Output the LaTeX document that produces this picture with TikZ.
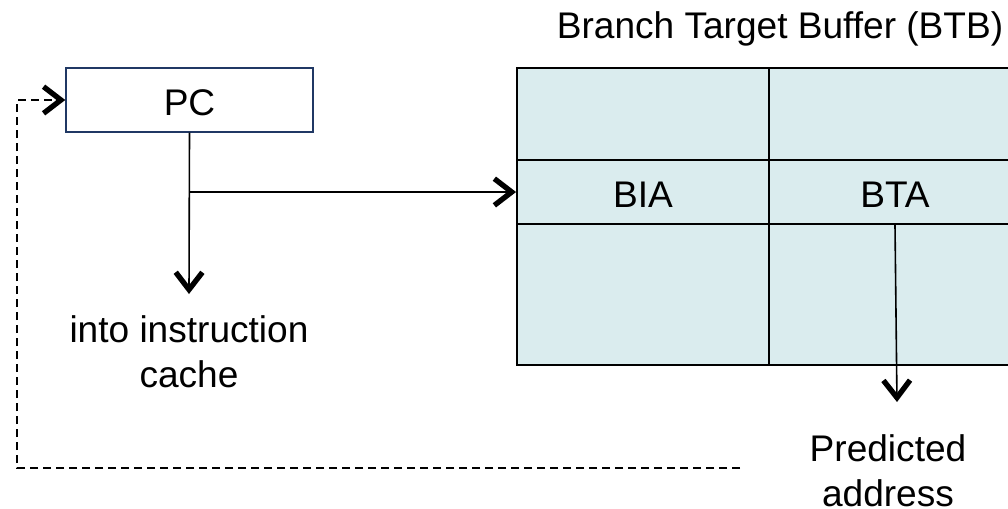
\documentclass[tikz,border=0pt]{standalone}
\usepackage{fontspec}
\setmainfont{Liberation Sans}
\usetikzlibrary{arrows.meta}
\definecolor{btbfill}{HTML}{DAECEE}
\definecolor{pcborder}{HTML}{203864}
\tikzset{
  lbl/.style={font=\fontsize{27.8}{33.5}\selectfont, text=black, align=center, inner sep=0pt},
  cell/.style={draw=black, line width=1.4pt, fill=btbfill, minimum width=189pt, inner sep=0pt, lbl},
  flow/.style={line width=1.2pt, -{Straight Barb[length=13pt, width=20pt, line width=4pt 0 1, sharp]}},
  back/.style={flow, line width=1.7pt, dash pattern=on 6pt off 3.75pt}
}
\begin{document}
\begin{tikzpicture}[x=0.75pt, y=-0.75pt]
  \useasboundingbox (0,0) rectangle (1008,508);
  \clip (0,0) rectangle (1008,508);

  % program counter
  \node[draw=pcborder, line width=1.1pt, fill=white, minimum width=185.25pt, minimum height=48pt, lbl] (pc) at (189.5,100) {};
  \node[lbl] (pctext) at (189.5,102.5) {PC};

  % branch target buffer: two columns, three rows
  \node[cell, minimum height=69pt] (c11) at (643,114) {};
  \node[cell, minimum height=69pt] (c12) at (895,114) {};
  \node[cell, minimum height=48pt] (bia) at (643,192) {};
  \node[cell, minimum height=48pt] (bta) at (895,192) {};
  \node[cell, minimum height=105.75pt] (c31) at (643,294.5) {};
  \node[cell, minimum height=105.75pt] (c32) at (895,294.5) {};
  \node[lbl] (biatext) at (643,195) {BIA};
  \node[lbl] (btatext) at (895,195) {BTA};

  \node[lbl] (title) at (780,28.5) {Branch Target Buffer (BTB)};

  % labels
  \node[lbl] (cache) at (189,352) {into instruction\\cache};
  \node[lbl] (pred) at (888,471) {Predicted\\address};

  % connectors
  \coordinate (split) at (189,192);
  \coordinate (cachetip) at (189,294);
  \coordinate (predtip) at (897,402);
  \coordinate (fb) at (740,468);
  \coordinate (fbcorner) at (17,468);

  \draw[flow] (pc.south) -- (cachetip);
  \draw[flow] (split) -- (bia.west);
  \draw[flow] (bta.south) -- (predtip);
  \draw[back] (fb) -- (fbcorner) |- (pc.west);
\end{tikzpicture}
\end{document}
